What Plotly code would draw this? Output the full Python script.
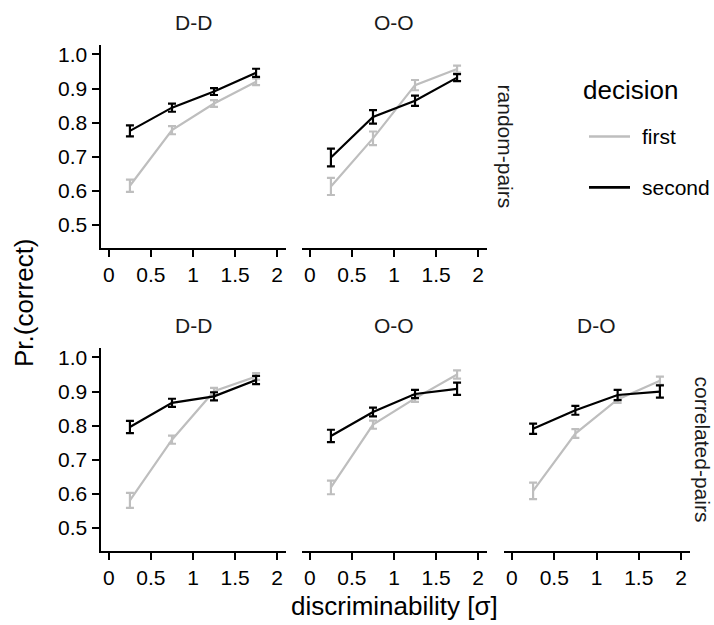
import plotly.graph_objects as go

# ---------------- data ----------------
disc = [0.25, 0.75, 1.25, 1.75]
x_ticks = [0, 0.5, 1, 1.5, 2]
x_tick_labels = ["0", "0.5", "1", "1.5", "2"]
y_ticks = [0.5, 0.6, 0.7, 0.8, 0.9, 1.0]

random_DD_first = [0.615, 0.778, 0.856, 0.920]
random_DD_first_se = [0.018, 0.012, 0.010, 0.010]
random_DD_second = [0.776, 0.844, 0.891, 0.946]
random_DD_second_se = [0.016, 0.012, 0.010, 0.012]

random_OO_first = [0.613, 0.754, 0.910, 0.957]
random_OO_first_se = [0.025, 0.020, 0.015, 0.010]
random_OO_second = [0.698, 0.817, 0.864, 0.932]
random_OO_second_se = [0.026, 0.020, 0.015, 0.010]

corr_DD_first = [0.581, 0.759, 0.901, 0.944]
corr_DD_first_se = [0.022, 0.012, 0.010, 0.010]
corr_DD_second = [0.796, 0.867, 0.886, 0.934]
corr_DD_second_se = [0.018, 0.012, 0.012, 0.012]

corr_OO_first = [0.619, 0.803, 0.880, 0.950]
corr_OO_first_se = [0.020, 0.012, 0.010, 0.012]
corr_OO_second = [0.770, 0.840, 0.893, 0.908]
corr_OO_second_se = [0.018, 0.013, 0.012, 0.018]

corr_DO_first = [0.609, 0.777, 0.877, 0.932]
corr_DO_first_se = [0.024, 0.013, 0.010, 0.012]
corr_DO_second = [0.791, 0.845, 0.890, 0.900]
corr_DO_second_se = [0.015, 0.013, 0.015, 0.018]

decisions = ["first", "second"]
row_labels = ["random-pairs", "correlated-pairs"]

# ---------------- layout geometry ----------------
W, H = 714, 625
FONT = "Liberation Sans, Arial, Helvetica, sans-serif"
COL_FIRST = "#bebebe"
COL_SECOND = "#000000"
SMALL = 21
LARGE = 26

cols_px = [(100.5, 285.5), (301.5, 486.5), (503.5, 689.5)]
rows_px = [(43, 247), (347, 551)]

panels = [
    (0, 0, "D-D", random_DD_first, random_DD_first_se, random_DD_second, random_DD_second_se),
    (0, 1, "O-O", random_OO_first, random_OO_first_se, random_OO_second, random_OO_second_se),
    (1, 0, "D-D", corr_DD_first, corr_DD_first_se, corr_DD_second, corr_DD_second_se),
    (1, 1, "O-O", corr_OO_first, corr_OO_first_se, corr_OO_second, corr_OO_second_se),
    (1, 2, "D-O", corr_DO_first, corr_DO_first_se, corr_DO_second, corr_DO_second_se),
]

def px_x(p):
    return p / W

def px_y(p):
    return 1 - p / H

fig = go.Figure()
annotations = []
shapes = []

for i, (r, c, lab, f, fse, s, sse) in enumerate(panels):
    n = i + 1
    xa = "x" if n == 1 else f"x{n}"
    ya = "y" if n == 1 else f"y{n}"
    for vals, se, col, name in [(f, fse, COL_FIRST, decisions[0]), (s, sse, COL_SECOND, decisions[1])]:
        fig.add_trace(go.Scatter(
            x=disc, y=vals, mode="lines", name=name, showlegend=False,
            line=dict(color=col, width=2.2),
            error_y=dict(type="data", array=se, visible=True, color=col, thickness=2.2, width=4),
            xaxis=xa, yaxis=ya, hoverinfo="skip",
        ))
    x0, x1 = cols_px[c]
    y0, y1 = rows_px[r]
    xkey = "xaxis" if n == 1 else f"xaxis{n}"
    ykey = "yaxis" if n == 1 else f"yaxis{n}"
    fig.update_layout(**{
        xkey: dict(
            domain=[px_x(x0), px_x(x1)], range=[-0.1, 2.1], anchor=ya,
            tickvals=x_ticks, ticktext=x_tick_labels,
            showline=True, linecolor="black", linewidth=2,
            ticks="outside", ticklen=7, tickwidth=2, tickcolor="black",
            showgrid=False, zeroline=False,
            tickfont=dict(family=FONT, size=SMALL, color="black"),
        ),
        ykey: dict(
            domain=[px_y(y1), px_y(y0)], range=[0.432, 1.028], anchor=xa,
            tickvals=y_ticks, tickformat=".1f",
            showline=(c == 0), linecolor="black", linewidth=2,
            ticks="outside" if c == 0 else "", ticklen=7, tickwidth=2, tickcolor="black",
            showticklabels=(c == 0),
            showgrid=False, zeroline=False,
            tickfont=dict(family=FONT, size=SMALL, color="black"),
        ),
    })
    annotations.append(dict(
        x=px_x((x0 + x1) / 2), y=px_y(y0 - 22), xref="paper", yref="paper",
        text=lab, showarrow=False, xanchor="center", yanchor="middle",
        font=dict(family=FONT, size=SMALL, color="#1a1a1a"),
    ))

# row strip labels on right
annotations.append(dict(
    x=px_x(505), y=px_y((rows_px[0][0] + rows_px[0][1]) / 2), xref="paper", yref="paper",
    text=row_labels[0], showarrow=False, textangle=90, xanchor="center", yanchor="middle",
    font=dict(family=FONT, size=SMALL, color="#1a1a1a"),
))
annotations.append(dict(
    x=px_x(702), y=px_y((rows_px[1][0] + rows_px[1][1]) / 2), xref="paper", yref="paper",
    text=row_labels[1], showarrow=False, textangle=90, xanchor="center", yanchor="middle",
    font=dict(family=FONT, size=SMALL, color="#1a1a1a"),
))

# axis titles
annotations.append(dict(
    x=px_x(24), y=px_y(302), xref="paper", yref="paper",
    text="Pr.(correct)", showarrow=False, textangle=-90, xanchor="center", yanchor="middle",
    font=dict(family=FONT, size=LARGE, color="black"),
))
annotations.append(dict(
    x=px_x(394.5), y=px_y(606), xref="paper", yref="paper",
    text="discriminability [σ]", showarrow=False, xanchor="center", yanchor="middle",
    font=dict(family=FONT, size=LARGE, color="black"),
))

# legend (manual)
annotations.append(dict(
    x=px_x(581), y=px_y(88), xref="paper", yref="paper",
    text="decision", showarrow=False, xanchor="left", yanchor="middle",
    font=dict(family=FONT, size=LARGE, color="black"),
))
for yy, col, name in [(135, COL_FIRST, decisions[0]), (186, COL_SECOND, decisions[1])]:
    shapes.append(dict(
        type="line", xref="paper", yref="paper",
        x0=px_x(589), x1=px_x(630), y0=px_y(yy), y1=px_y(yy),
        line=dict(color=col, width=2.6),
    ))
    annotations.append(dict(
        x=px_x(640), y=px_y(yy), xref="paper", yref="paper",
        text=name, showarrow=False, xanchor="left", yanchor="middle",
        font=dict(family=FONT, size=SMALL, color="black"),
    ))

fig.update_layout(
    width=W, height=H,
    margin=dict(l=0, r=0, t=0, b=0),
    paper_bgcolor="white", plot_bgcolor="white",
    annotations=annotations, shapes=shapes,
    showlegend=False,
    font=dict(family=FONT),
)

fig.write_html(
    "out.html",
    config={"displayModeBar": False},
    post_script="document.body.style.margin='0';document.body.style.overflow='hidden';",
)
